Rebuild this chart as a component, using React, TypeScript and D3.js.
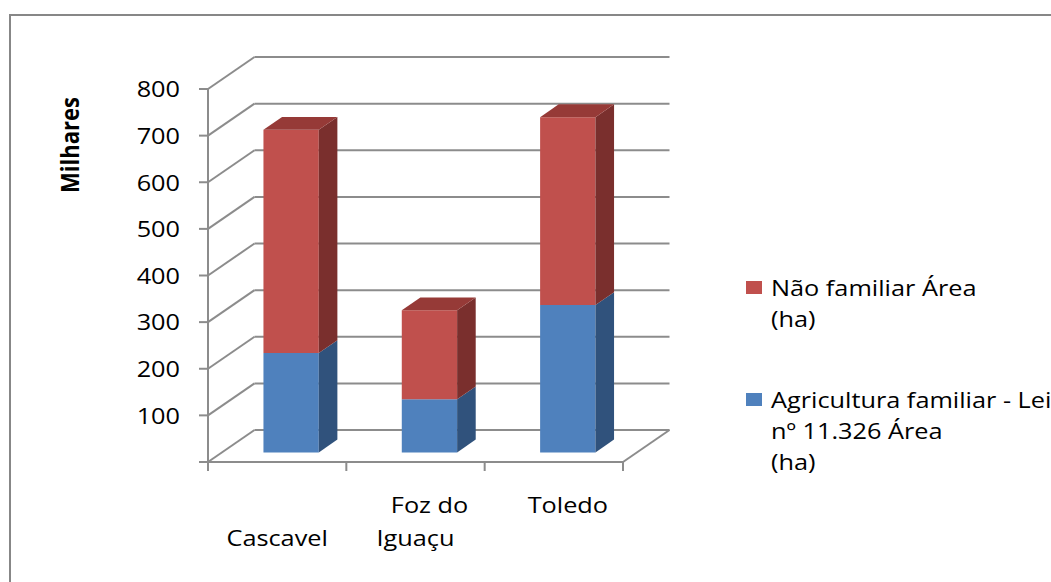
import React from "react";
import * as d3 from "d3";

// Municipalities and stacked areas (thousands of hectares)
const categoryKeys = ["Cascavel", "Foz do Iguaçu", "Toledo"];
const categoryLines = [["Cascavel"], ["Foz do", "Iguaçu"], ["Toledo"]];
const familiarArea = [213, 114, 316];
const naoFamiliarArea = [479, 191, 403];
const yTicks = [0, 100, 200, 300, 400, 500, 600, 700, 800];
const legendLabels = [
  ["Não familiar Área", "(ha)"],
  ["Agricultura familiar - Lei", "nº 11.326 Área", "(ha)"],
];

const W = 1051;
const H = 582;
const FONT = "'Open Sans', 'Liberation Sans', sans-serif";
const SX = 1.15; // glyph widening used for all labels

// Oblique projection: depth vector of the plot box
const DEPTH_X = 46.5;
const DEPTH_Y = -32;
const X0 = 208;
const X1 = 623;

const series = [
  { values: familiarArea, front: "#4F81BD", side: "#30527C", top: "#3F6797" },
  { values: naoFamiliarArea, front: "#C0504D", side: "#7A2F2D", top: "#963A37" },
];

// Staggered label rows (first line of each label) and horizontal nudges
const labelRowStart = [1, 0, 0];
const labelNudge = [[0], [14, 0], [14]];

export default function App() {
  const y = d3.scaleLinear().domain([0, 800]).range([462, 89]);
  const x = d3
    .scaleBand<string>()
    .domain(categoryKeys)
    .range([X0, X1])
    .paddingInner(0.6)
    .paddingOuter(0.3);
  const xTickScale = d3.scaleLinear().domain([0, 3]).range([X0, X1]);

  const proj = (px: number, py: number, z: number): [number, number] => [
    px + z * DEPTH_X,
    py + z * DEPTH_Y,
  ];
  const pts = (a: [number, number][]) => a.map((p) => p.join(",")).join(" ");

  const zFront = 0.3;
  const zBack = 0.7;
  const grid = "#8C8C8C";

  const bars: React.ReactNode[] = [];
  categoryKeys.forEach((key, i) => {
    let base = 0;
    const bx = x(key)!;
    const bw = x.bandwidth();
    series.forEach((s, si) => {
      const v0 = base;
      const v1 = base + s.values[i];
      base = v1;
      const yb = y(v0);
      const yt = y(v1);
      const fl = proj(bx, yb, zFront);
      const fr = proj(bx + bw, yb, zFront);
      const ftr = proj(bx + bw, yt, zFront);
      const ftl = proj(bx, yt, zFront);
      const br = proj(bx + bw, yb, zBack);
      const btr = proj(bx + bw, yt, zBack);
      const btl = proj(bx, yt, zBack);
      bars.push(
        <g key={`${key}-${si}`}>
          <polygon points={pts([fl, fr, ftr, ftl])} fill={s.front} />
          <polygon points={pts([fr, br, btr, ftr])} fill={s.side} />
          {si === series.length - 1 && (
            <polygon points={pts([ftl, ftr, btr, btl])} fill={s.top} />
          )}
        </g>
      );
    });
  });

  return (
    <svg
      width={W}
      height={H}
      style={{ position: "absolute", left: 0, top: 0, background: "#fff" }}
    >
      <rect x={0} y={0} width={W} height={H} fill="#fff" />
      {/* chart area border */}
      <rect x={10} y={15} width={1200} height={700} fill="none" stroke="#878787" strokeWidth={2} />

      {/* back wall gridlines, side-wall diagonals and tick marks */}
      {yTicks.map((t) => {
        const [bx0, by] = proj(X0, y(t), 1);
        const [bx1] = proj(X1, y(t), 1);
        return (
          <g key={`g${t}`} stroke={grid} strokeWidth={2} fill="none">
            <line x1={bx0} y1={by} x2={bx1} y2={by} />
            <line x1={X0} y1={y(t)} x2={bx0} y2={by} />
            <line x1={X0 - 9} y1={y(t)} x2={X0} y2={y(t)} />
          </g>
        );
      })}
      {/* front axes and floor edge */}
      <g stroke={grid} strokeWidth={2} fill="none">
        <line x1={X0} y1={y(800)} x2={X0} y2={y(0)} />
        <line x1={X0} y1={y(0)} x2={X1} y2={y(0)} />
        <line
          x1={X1}
          y1={y(0)}
          x2={proj(X1, y(0), 1)[0]}
          y2={proj(X1, y(0), 1)[1]}
        />
        {d3.range(4).map((k) => (
          <line
            key={`xt${k}`}
            x1={xTickScale(k)}
            y1={y(0)}
            x2={xTickScale(k)}
            y2={y(0) + 9}
          />
        ))}
      </g>

      {bars}

      {/* y tick labels */}
      {yTicks
        .filter((t) => t > 0)
        .map((t) => (
          <text
            key={`yl${t}`}
            transform={`translate(180,${y(t)}) scale(${SX},1)`}
            textAnchor="end"
            dominantBaseline="central"
            fontFamily={FONT}
            fontSize={22}
            fill="#000"
          >
            {t}
          </text>
        ))}

      {/* axis title */}
      <text
        transform={`translate(79,145) scale(${SX},1) rotate(-90)`}
        textAnchor="middle"
        fontFamily={FONT}
        fontSize={22}
        fontWeight="bold"
        fill="#000"
      >
        Milhares
      </text>

      {/* category labels */}
      {categoryLines.map((lines, i) => {
        const cx = x(categoryKeys[i])! + x.bandwidth() / 2;
        return lines.map((ln, li) => (
          <text
            key={`c${i}-${li}`}
            transform={`translate(${cx + labelNudge[i][li]},${513 + (labelRowStart[i] + li) * 33}) scale(${SX},1)`}
            textAnchor="middle"
            fontFamily={FONT}
            fontSize={22}
            fill="#000"
          >
            {ln}
          </text>
        ));
      })}

      {/* legend */}
      {legendLabels.map((lines, i) => {
        const top = i === 0 ? 281 : 393;
        const color = i === 0 ? series[1].front : series[0].front;
        return (
          <g key={`lg${i}`}>
            <rect x={746} y={top} width={16} height={13} fill={color} />
            {lines.map((ln, li) => (
              <text
                key={li}
                transform={`translate(771,${top + 15 + li * 31}) scale(${SX},1)`}
                fontFamily={FONT}
                fontSize={22}
                fill="#000"
              >
                {ln}
              </text>
            ))}
          </g>
        );
      })}
    </svg>
  );
}
